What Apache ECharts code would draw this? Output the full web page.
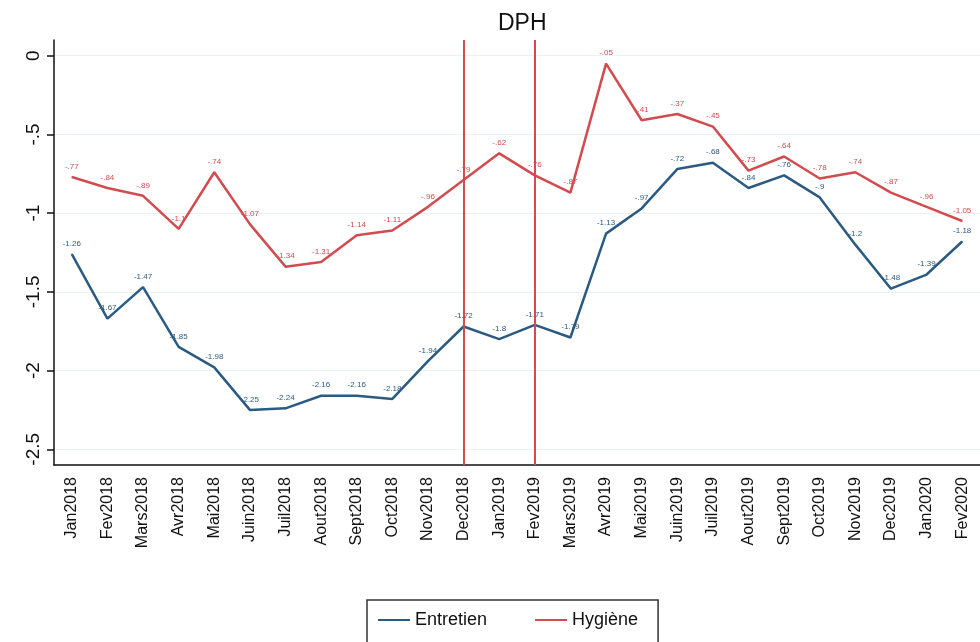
<!DOCTYPE html>
<html>
<head>
<meta charset="utf-8">
<script src="https://cdn.jsdelivr.net/npm/echarts@6/dist/echarts.min.js"></script>
<style>
  html, body { margin: 0; padding: 0; background: #fff; }
  #main { width: 980px; height: 642px; }
</style>
</head>
<body>
<div id="main"></div>
<script>
var months = ['Jan2018', 'Fev2018', 'Mars2018', 'Avr2018', 'Mai2018', 'Juin2018', 'Juil2018',
    'Aout2018', 'Sept2018', 'Oct2018', 'Nov2018', 'Dec2018', 'Jan2019', 'Fev2019', 'Mars2019',
    'Avr2019', 'Mai2019', 'Juin2019', 'Juil2019', 'Aout2019', 'Sept2019', 'Oct2019', 'Nov2019',
    'Dec2019', 'Jan2020', 'Fev2020'];

var entretien = [-1.26, -1.67, -1.47, -1.85, -1.98, -2.25, -2.24, -2.16, -2.16, -2.18, -1.94,
    -1.72, -1.8, -1.71, -1.79, -1.13, -0.97, -0.72, -0.68, -0.84, -0.76, -0.9, -1.2, -1.48,
    -1.39, -1.18];

var hygiene = [-0.77, -0.84, -0.89, -1.1, -0.74, -1.07, -1.34, -1.31, -1.14, -1.11, -0.96,
    -0.79, -0.62, -0.76, -0.87, -0.05, -0.41, -0.37, -0.45, -0.73, -0.64, -0.78, -0.74, -0.87,
    -0.96, -1.05];

var periodMarks = ['Dec2018', 'Fev2019'];

var blue = '#2b5a82';
var red = '#d24b4f';
var grid = '#e8f1f4';

// stata style numbers: -.77 instead of -0.77
function fmt(v) {
    return String(v).replace('-0.', '-.').replace(/^0\./, '.');
}

function lineSeries(name, data, color) {
    return {
        name: name,
        type: 'line',
        data: data,
        symbol: 'circle',
        symbolSize: 1,
        showSymbol: true,
        lineStyle: { color: color, width: 2.5 },
        itemStyle: { color: color },
        labelLayout: { hideOverlap: false },
        label: {
            show: true,
            position: 'top',
            distance: 6,
            fontSize: 8,
            fontFamily: 'Liberation Sans',
            color: color,
            formatter: function (p) { return fmt(p.value); }
        }
    };
}

var chart = echarts.init(document.getElementById('main'));

var hySeries = lineSeries('Hygiène', hygiene, red);
hySeries.markLine = {
    silent: true,
    symbol: 'none',
    label: { show: false },
    lineStyle: { color: red, width: 2, type: 'solid' },
    data: periodMarks.map(function (m) { return { xAxis: m }; })
};

chart.setOption({
    animation: false,
    backgroundColor: '#fff',
    textStyle: { fontFamily: 'Liberation Sans' },
    title: {
        text: 'DPH',
        left: 493,
        top: 7,
        textStyle: { fontSize: 23, fontWeight: 'normal', color: '#111' }
    },
    legend: {
        left: 367,
        top: 600,
        padding: [11, 20, 16, 11],
        borderColor: '#333',
        borderWidth: 1.5,
        itemGap: 48,
        itemWidth: 32,
        itemHeight: 2,
        icon: 'rect',
        textStyle: { fontSize: 18, color: '#111' },
        data: ['Entretien', 'Hygiène']
    },
    grid: { left: 54, right: 0, top: 40, bottom: 177 },
    xAxis: {
        type: 'category',
        data: months,
        boundaryGap: true,
        axisLine: { onZero: false, lineStyle: { color: '#111', width: 1.5 } },
        axisTick: { alignWithLabel: true, length: 7, lineStyle: { color: '#111', width: 1.5 } },
        axisLabel: { rotate: 90, fontSize: 16, color: '#111', margin: 12, interval: 0 },
        splitLine: { show: false }
    },
    yAxis: {
        type: 'value',
        min: -2.6,
        max: 0.1,
        splitNumber: 5,
        axisLine: { show: true, lineStyle: { color: '#111', width: 1.5 } },
        axisTick: { show: true, length: 7, lineStyle: { color: '#111', width: 1.5 } },
        axisLabel: {
            rotate: 90,
            fontSize: 19,
            color: '#111',
            margin: 11,
            showMinLabel: false,
            showMaxLabel: false,
            formatter: function (v) { return fmt(v); }
        },
        splitLine: {
            show: true,
            lineStyle: { color: ['#fff', grid, grid, grid, grid, grid, grid, '#fff'], width: 1 }
        }
    },
    series: [
        lineSeries('Entretien', entretien, blue),
        hySeries
    ]
});
</script>
</body>
</html>
